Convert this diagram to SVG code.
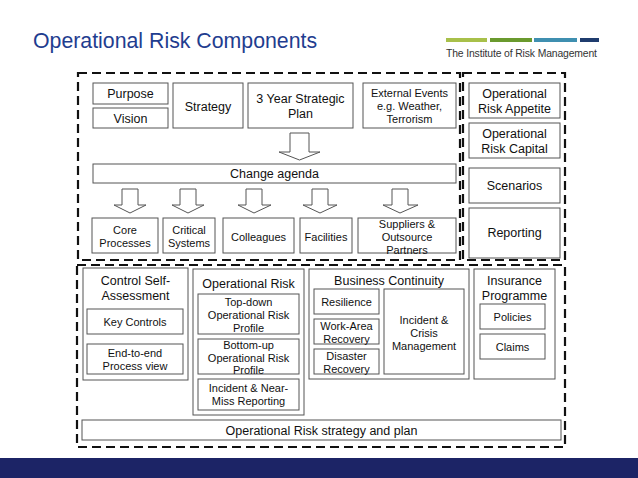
<svg xmlns="http://www.w3.org/2000/svg" width="638" height="478" viewBox="0 0 638 478">
<style>
text{font-family:"Liberation Sans",Arial,sans-serif;fill:#111;text-anchor:middle}
.b{fill:#fff;stroke:#555;stroke-width:1}
.d{fill:none;stroke:#111;stroke-width:2.2;stroke-dasharray:9,5}
.a{fill:#fff;stroke:#555;stroke-width:1}
.t{font-size:11px}
.s{font-size:10px}
.m{font-size:12.5px}
</style>
<rect width="638" height="478" fill="#fff"/>
<text x="33" y="48" style="font-size:21.3px;fill:#1f3d8f;text-anchor:start">Operational Risk Components</text>
<g id="logo">
<rect x="446" y="38" width="41" height="4" fill="#a8c04a"/>
<rect x="490" y="38" width="42" height="4" fill="#6a9a2e"/>
<rect x="534" y="38" width="43" height="4" fill="#3f8fb0"/>
<rect x="580" y="38" width="19" height="4" fill="#1f3c6e"/>
<text x="446" y="57" style="font-size:10.4px;fill:#333;text-anchor:start" textLength="151">The Institute of Risk Management</text>
</g>
<rect x="0" y="458" width="638" height="20" fill="#1c2466"/>
<g id="frames">
<rect class="d" x="78" y="73" width="382" height="187"/>
<rect class="d" x="463" y="73" width="102" height="187"/>
<rect class="d" x="77" y="265" width="488" height="182"/>
</g>
<g id="connectors">
<path class="a" d="M290,133H309V152H320L299.5,160L279,152H290Z"/>
<path class="a" d="M122,189H138V205H146L130,213L114,205H122Z"/>
<path class="a" d="M180,189H196V205H204L188,213L172,205H180Z"/>
<path class="a" d="M246,189H262V205H271L254,213L238,205H246Z"/>
<path class="a" d="M312,189H328V205H337L320,213L303,205H312Z"/>
<path class="a" d="M392,189H408V205H418L400,213L383,205H392Z"/>
</g>
<g id="purpose"><rect class="b" x="93" y="83" width="75" height="21"/><text class="m" x="130.5" y="98">Purpose</text></g>
<g id="vision"><rect class="b" x="93" y="108" width="75" height="20"/><text class="m" x="130.5" y="123">Vision</text></g>
<g id="strategy"><rect class="b" x="173" y="83" width="70" height="45"/><text class="m" x="208" y="111">Strategy</text></g>
<g id="plan3"><rect class="b" x="248" y="83" width="105" height="45"/><text class="m" x="300.5" y="103">3 Year Strategic</text><text class="m" x="300.5" y="118">Plan</text></g>
<g id="external"><rect class="b" x="363" y="83" width="93" height="45"/><text class="t" x="409.5" y="97">External Events</text><text class="t" x="409.5" y="110">e.g. Weather,</text><text class="t" x="409.5" y="123">Terrorism</text></g>
<g id="appetite"><rect class="b" x="469" y="83" width="91" height="35"/><text class="m" x="514.5" y="98">Operational</text><text class="m" x="514.5" y="113">Risk Appetite</text></g>
<g id="capital"><rect class="b" x="469" y="123" width="91" height="35"/><text class="m" x="514.5" y="138">Operational</text><text class="m" x="514.5" y="153">Risk Capital</text></g>
<g id="scenarios"><rect class="b" x="469" y="168" width="91" height="35"/><text class="m" x="514.5" y="190">Scenarios</text></g>
<g id="reporting"><rect class="b" x="469" y="208" width="91" height="50"/><text class="m" x="514.5" y="237">Reporting</text></g>
<g id="change"><rect class="b" x="93" y="164" width="363" height="19"/><text class="m" x="274.5" y="178">Change agenda</text></g>
<g id="core"><rect class="b" x="92" y="218" width="66" height="35"/><text class="t" x="125" y="234">Core</text><text class="t" x="125" y="247">Processes</text></g>
<g id="critical"><rect class="b" x="163" y="218" width="52" height="35"/><text class="t" x="189" y="234">Critical</text><text class="t" x="189" y="247">Systems</text></g>
<g id="colleagues"><rect class="b" x="223" y="218" width="71" height="35"/><text class="t" x="258.5" y="241">Colleagues</text></g>
<g id="facilities"><rect class="b" x="300" y="218" width="52" height="35"/><text class="t" x="326" y="241">Facilities</text></g>
<g id="suppliers"><rect class="b" x="358" y="218" width="98" height="35"/><text class="t" x="407" y="228">Suppliers &amp;</text><text class="t" x="407" y="241">Outsource</text><text class="t" x="407" y="254">Partners</text></g>
<g id="csa"><rect class="b" x="83" y="268" width="105" height="112"/><text class="m" x="135.5" y="285">Control Self-</text><text class="m" x="135.5" y="300">Assessment</text></g>
<g id="keycontrols"><rect class="b" x="87" y="309" width="96" height="25"/><text class="t" x="135" y="326">Key Controls</text></g>
<g id="endtoend"><rect class="b" x="87" y="344" width="96" height="30"/><text class="t" x="135" y="357">End-to-end</text><text class="t" x="135" y="370">Process view</text></g>
<g id="oprisk"><rect class="b" x="193" y="269" width="111" height="146"/><text class="m" x="248.5" y="288">Operational Risk</text></g>
<g id="topdown"><rect class="b" x="198" y="294" width="101" height="40"/><text class="t" x="248.5" y="306">Top-down</text><text class="t" x="248.5" y="319">Operational Risk</text><text class="t" x="248.5" y="332">Profile</text></g>
<g id="bottomup"><rect class="b" x="198" y="339" width="101" height="35"/><text class="t" x="248.5" y="349">Bottom-up</text><text class="t" x="248.5" y="362">Operational Risk</text><text class="t" x="248.5" y="374">Profile</text></g>
<g id="incident"><rect class="b" x="198" y="379" width="101" height="31"/><text class="t" x="248.5" y="392">Incident &amp; Near-</text><text class="t" x="248.5" y="405">Miss Reporting</text></g>
<g id="bc"><rect class="b" x="309" y="269" width="160" height="110"/><text class="m" x="389" y="285">Business Continuity</text></g>
<g id="resilience"><rect class="b" x="314" y="289" width="65" height="25"/><text class="t" x="346.5" y="306">Resilience</text></g>
<g id="workarea"><rect class="b" x="314" y="319" width="65" height="25"/><text class="t" x="346.5" y="330">Work-Area</text><text class="t" x="346.5" y="343">Recovery</text></g>
<g id="disaster"><rect class="b" x="314" y="349" width="65" height="25"/><text class="t" x="346.5" y="360">Disaster</text><text class="t" x="346.5" y="373">Recovery</text></g>
<g id="crisis"><rect class="b" x="384" y="289" width="80" height="85"/><text class="t" x="424" y="324">Incident &amp;</text><text class="t" x="424" y="337">Crisis</text><text class="t" x="424" y="350">Management</text></g>
<g id="insurance"><rect class="b" x="474" y="269" width="81" height="110"/><text class="m" x="514.5" y="285">Insurance</text><text class="m" x="514.5" y="300">Programme</text></g>
<g id="policies"><rect class="b" x="480" y="304" width="65" height="25"/><text class="t" x="512.5" y="321">Policies</text></g>
<g id="claims"><rect class="b" x="480" y="334" width="65" height="25"/><text class="t" x="512.5" y="351">Claims</text></g>
<g id="orsp"><rect class="b" x="82" y="420" width="479" height="20"/><text class="m" x="321.5" y="435">Operational Risk strategy and plan</text></g>
</svg>
